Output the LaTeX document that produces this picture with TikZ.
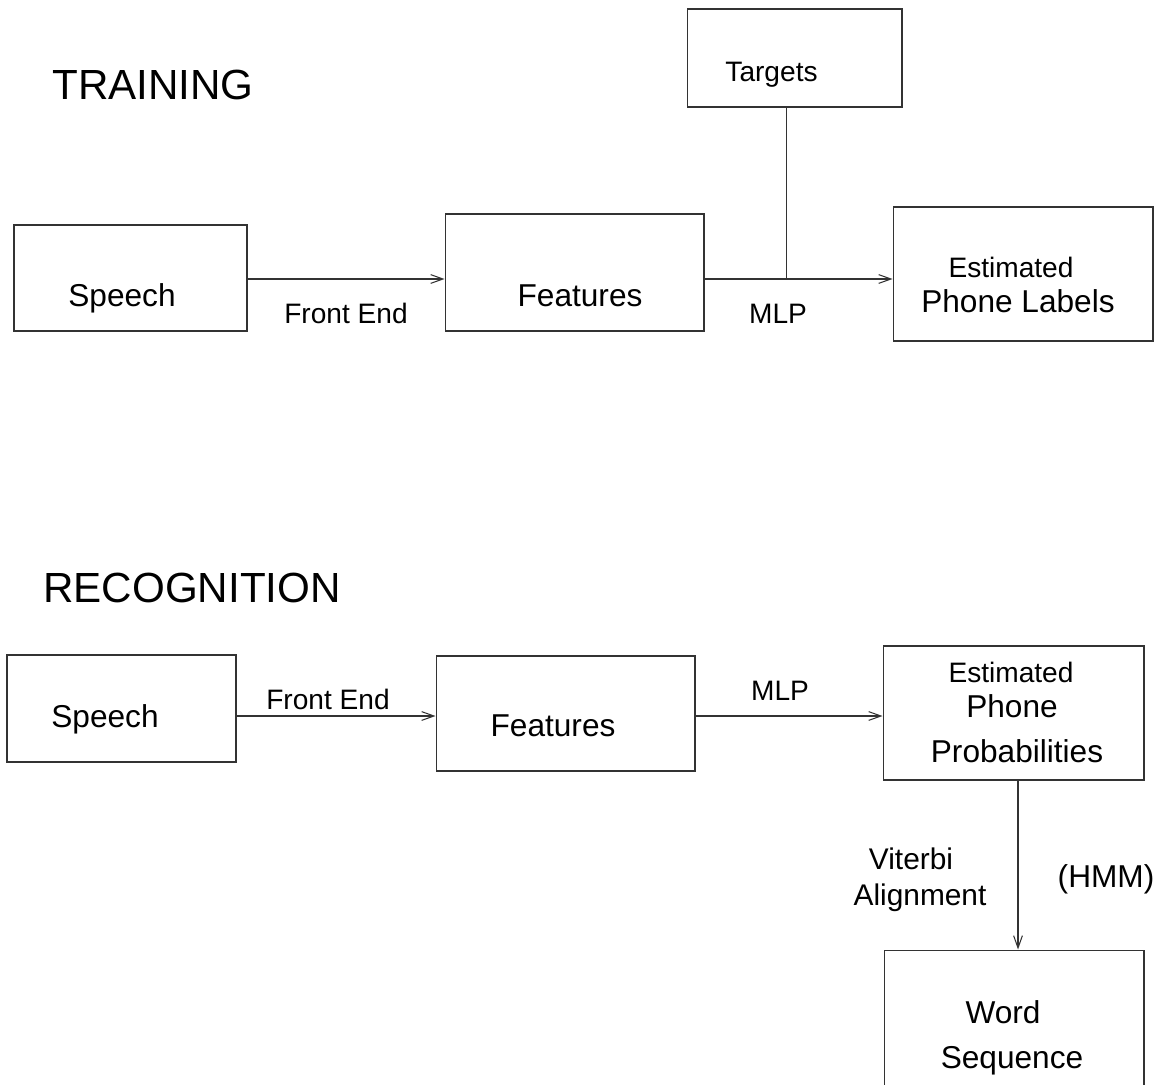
\documentclass[tikz,border=0pt]{standalone}
\usepackage{fontspec}
\setmainfont{Liberation Sans}
\usetikzlibrary{arrows.meta}

\tikzset{
  box/.style={draw=black!80,line width=0.6pt,inner sep=0pt},
  flow/.style={draw=black!80,line width=0.6pt,-{Straight Barb[length=7pt,width=5pt]}},
  link/.style={draw=black!80,line width=0.6pt},
  lbl/.style={inner sep=0pt,anchor=base},
  head/.style={lbl,font=\fontsize{24}{28}\selectfont},
  big/.style={lbl,font=\fontsize{18}{21}\selectfont},
  mid/.style={lbl,font=\fontsize{17}{20}\selectfont},
  small/.style={lbl,font=\fontsize{16}{19}\selectfont}
}

\begin{document}
\begin{tikzpicture}[x=0.02cm,y=-0.02cm]
  \useasboundingbox (0,0) rectangle (1158,1084);

  %training
  \node[head] (train) at (153,100) {TRAINING};
  \node[box,minimum width=4.30cm,minimum height=1.96cm] (targ) at (794.5,58) {};
  \node[box,minimum width=4.66cm,minimum height=2.12cm] (speechT) at (130.5,278) {};
  \node[box,minimum width=5.18cm,minimum height=2.34cm] (featT) at (574.5,272.5) {};
  \node[box,minimum width=5.20cm,minimum height=2.68cm] (estT) at (1023,274) {};
  \node[small] (targtxt) at (771.5,82) {Targets};
  \node[big] (speechTtxt) at (122,306) {Speech};
  \node[big] (featTtxt) at (580,306) {Features};
  \node[small] (estTtxt) at (1011,277) {Estimated};
  \node[big] (phoneTtxt) at (1018,312) {Phone Labels};
  \node[small] (frontT) at (346,323) {Front End};
  \node[small] (mlpT) at (778,323) {MLP};
  \draw[flow] (speechT.east |- 0,279) -- (featT.west |- 0,279);
  \draw[flow] (featT.east |- 0,279) -- (estT.west |- 0,279);
  \draw[link] ([xshift=-0.16cm]targ.south) -- ([xshift=-0.16cm]targ.south |- 0,279);

  %recognition
  \node[head] (recog) at (192,602) {RECOGNITION};
  \node[box,minimum width=4.58cm,minimum height=2.14cm] (speechB) at (121.5,708.5) {};
  \node[box,minimum width=5.18cm,minimum height=2.30cm] (featB) at (565.5,713.5) {};
  \node[box,minimum width=5.22cm,minimum height=2.68cm] (estB) at (1013.5,713) {};
  \node[box,minimum width=5.20cm,minimum height=3.00cm] (wordB) at (1014,1025) {};
  \node[big] (speechBtxt) at (105,727) {Speech};
  \node[big] (featBtxt) at (553,736) {Features};
  \node[small] (estBtxt) at (1011,682) {Estimated};
  \node[big] (phoneB) at (1012,717) {Phone};
  \node[big] (probB) at (1017,762) {Probabilities};
  \node[small] (frontB) at (328,709) {Front End};
  \node[small] (mlpB) at (780,700) {MLP};
  \node[mid] (vit) at (911,869) {Viterbi};
  \node[mid] (align) at (920,905) {Alignment};
  \node[big] (hmm) at (1106,887) {(HMM)};
  \node[big] (wordtxt) at (1003,1023) {Word};
  \node[big] (seqtxt) at (1012,1068) {Sequence};
  \draw[flow] (speechB.east |- 0,716) -- (featB.west |- 0,716);
  \draw[flow] (featB.east |- 0,716) -- (estB.west |- 0,716);
  \draw[flow] ([xshift=0.09cm]estB.south) -- ([xshift=0.09cm]estB.south |- wordB.north);
\end{tikzpicture}
\end{document}
